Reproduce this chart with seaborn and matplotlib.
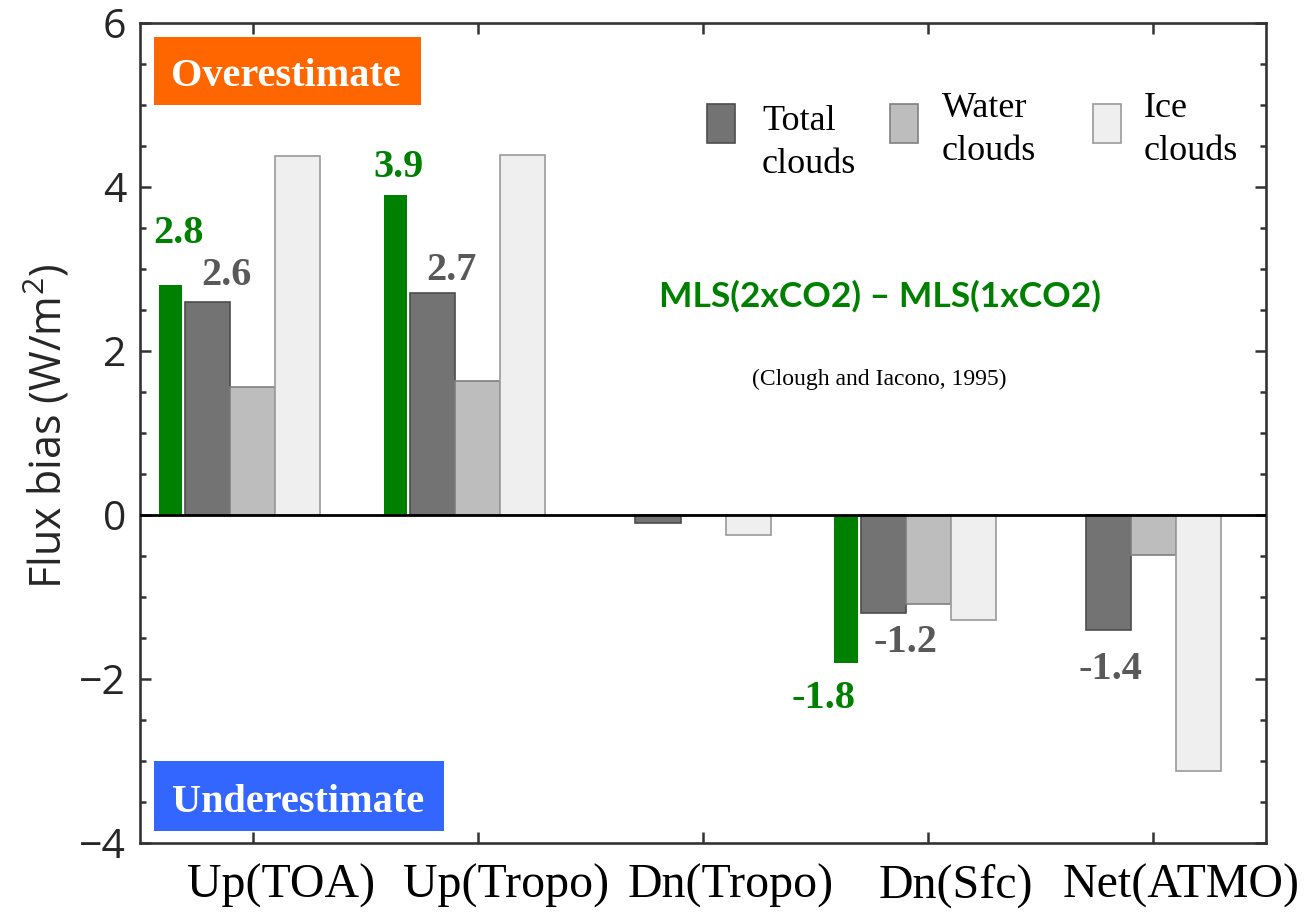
import numpy as np
import pandas as pd
import matplotlib
matplotlib.use("Agg")
import matplotlib.pyplot as plt
import matplotlib.transforms as mtransforms
from matplotlib.patches import Rectangle
from matplotlib.ticker import MultipleLocator
import seaborn as sns

# ---- data -------------------------------------------------------------
categories = ["Up(TOA)", "Up(Tropo)", "Dn(Tropo)", "Dn(Sfc)", "Net(ATMO)"]
cloud_types = ["Total clouds", "Water clouds", "Ice clouds"]
total_clouds = [2.6, 2.7, -0.10, -1.2, -1.4]
water_clouds = [1.56, 1.63, 0.0, -1.09, -0.49]
ice_clouds = [4.38, 4.39, -0.25, -1.28, -3.12]
co2_doubling = [2.8, 3.9, np.nan, -1.8, np.nan]   # MLS(2xCO2) - MLS(1xCO2)

yticks = [-4, -2, 0, 2, 4, 6]
ytick_labels = ["\u22124", "\u22122", "0", "2", "4", "6"]

# ---- styling ----------------------------------------------------------
bar_colors = {"Total clouds": "#737373", "Water clouds": "#bdbdbd", "Ice clouds": "#efefef"}
edge_colors = ["#4d4d4d", "#808080", "#9a9a9a"]
green = "#008000"
label_gray = "#595959"
serif = "Liberation Serif"
sans = "Open Sans"

sns.set_theme(style="ticks")
plt.rcParams["font.family"] = [sans, "DejaVu Sans"]
plt.rcParams["mathtext.fontset"] = "custom"
plt.rcParams["mathtext.rm"] = sans
plt.rcParams["mathtext.it"] = sans
plt.rcParams["mathtext.default"] = "regular"

rows = []
for name, vals in zip(cloud_types, [total_clouds, water_clouds, ice_clouds]):
    for cat, v in zip(categories, vals):
        rows.append({"category": cat, "cloud": name, "flux": v})
df = pd.DataFrame(rows)

fig = plt.figure(figsize=(13.11, 9.19), dpi=100)
ax = fig.add_axes([0.1068, 0.0827, 0.8589, 0.8926])

sns.barplot(data=df, x="category", y="flux", hue="cloud", order=categories,
            hue_order=cloud_types, palette=bar_colors, width=0.6, gap=0,
            dodge=True, errorbar=None, legend=False, saturation=1,
            linewidth=1.2, ax=ax)
for container, ec in zip(ax.containers, edge_colors):
    for bar in container:
        bar.set_edgecolor(ec)

# narrow green bars to the left of each cloud group
xpos = np.arange(len(categories))
ax.bar(xpos - 0.365, co2_doubling, width=0.105, color=green, linewidth=0, zorder=2)

ax.axhline(0, color="black", lw=2.0, zorder=4)

ax.set_xlim(-0.5, len(categories) - 0.5)
ax.set_ylim(-4, 6)
ax.set_yticks(yticks, ytick_labels)
ax.yaxis.set_minor_locator(MultipleLocator(0.5))
ax.set_xlabel("")

for side in ["left", "right", "top", "bottom"]:
    ax.spines[side].set_visible(True)
    ax.spines[side].set_linewidth(1.9)
    ax.spines[side].set_color("#333333")

ax.tick_params(which="both", direction="in", top=True, right=True,
               color="#333333", width=1.8)
ax.tick_params(which="major", length=8)
ax.tick_params(which="minor", length=4.5)
ax.tick_params(axis="x", which="minor", bottom=False, top=False)
ax.tick_params(axis="y", which="major", labelsize=29.5, labelcolor="#262626", pad=10)
ax.tick_params(axis="x", which="major", labelsize=34.5, labelcolor="black", pad=15)

for lbl in ax.get_yticklabels():
    lbl.set_family(sans)
shift = mtransforms.ScaledTranslation(0.28, 0, fig.dpi_scale_trans)
for lbl in ax.get_xticklabels():
    lbl.set_family(serif)
    lbl.set_transform(lbl.get_transform() + shift)

ax.set_ylabel("Flux bias (W/m$^2$)", fontsize=31, family=sans, color="#262626")
ax.yaxis.set_label_coords(-0.06, 0.508)

# ---- value labels -----------------------------------------------------
green_label_pos = {0: (-0.33, 0.51), 1: (-0.354, 0.22), 3: (-0.465, -0.56)}
total_label_pos = {0: (-0.115, 0.20), 1: (-0.119, 0.16), 3: (-0.099, -0.47), 4: (-0.19, -0.60)}
for i, (dx, dy) in green_label_pos.items():
    v = co2_doubling[i]
    ax.text(i + dx, v + dy, f"{v:.1f}", ha="center", va="baseline", color=green,
            fontsize=29, fontweight="bold", family=serif, zorder=5)
for i, (dx, dy) in total_label_pos.items():
    v = total_clouds[i]
    ax.text(i + dx, v + dy, f"{v:.1f}", ha="center", va="baseline", color=label_gray,
            fontsize=29, fontweight="bold", family=serif, zorder=5)

# ---- over / under boxes ------------------------------------------------
ax.add_patch(Rectangle((0.01243, 0.8997), 0.2371, 0.0829, transform=ax.transAxes,
                       facecolor="#ff6600", edgecolor="none", zorder=5))
ax.text(0.1297, 0.9228, "Overestimate", transform=ax.transAxes, ha="center",
        va="baseline", color="white", fontsize=29, fontweight="bold", family=serif, zorder=6)
ax.add_patch(Rectangle((0.01243, 0.0146), 0.2575, 0.0853, transform=ax.transAxes,
                       facecolor="#3366ff", edgecolor="none", zorder=5))
ax.text(0.1403, 0.0378, "Underestimate", transform=ax.transAxes, ha="center",
        va="baseline", color="white", fontsize=29, fontweight="bold", family=serif, zorder=6)

# ---- experiment title --------------------------------------------------
ax.text(0.6572, 0.6538, "MLS(2xCO2) \u2013 MLS(1xCO2)", transform=ax.transAxes,
        ha="center", va="baseline", color=green, fontsize=25.5, fontweight="bold",
        family="Lato", zorder=6)
ax.text(0.6563, 0.5583, "(Clough and Iacono, 1995)", transform=ax.transAxes,
        ha="center", va="baseline", color="black", fontsize=17, family=serif, zorder=6)

# ---- legend ------------------------------------------------------------
ax_w, ax_h = 1126.0, 820.3
ax_x0, ax_y1 = 140.0, 843.0

def fx(px):
    return (px - ax_x0) / ax_w

def fy(py):
    return (ax_y1 - py) / ax_h

legend_patch_x = [706.7, 890.0, 1093.0]
legend_text_x = [762.0, 942.0, 1144.0]
legend_lines = [("Total", "clouds"), ("Water", "clouds"), ("Ice", "clouds")]
legend_baselines = [(130.0, 173.3), (116.7, 160.0), (116.7, 160.0)]
for name, px, tx, lines, bls, ec in zip(cloud_types, legend_patch_x, legend_text_x,
                                       legend_lines, legend_baselines, edge_colors):
    ax.add_patch(Rectangle((fx(px), fy(143.3)), 28.3 / ax_w, (143.3 - 104.0) / ax_h,
                           transform=ax.transAxes, facecolor=bar_colors[name],
                           edgecolor=ec, lw=1.2, zorder=6))
    for line, bl in zip(lines, bls):
        ax.text(fx(tx), fy(bl), line, transform=ax.transAxes, ha="left", va="baseline",
                fontsize=26, family=serif, color="black", zorder=6)

fig.savefig("out.png", dpi=100)
